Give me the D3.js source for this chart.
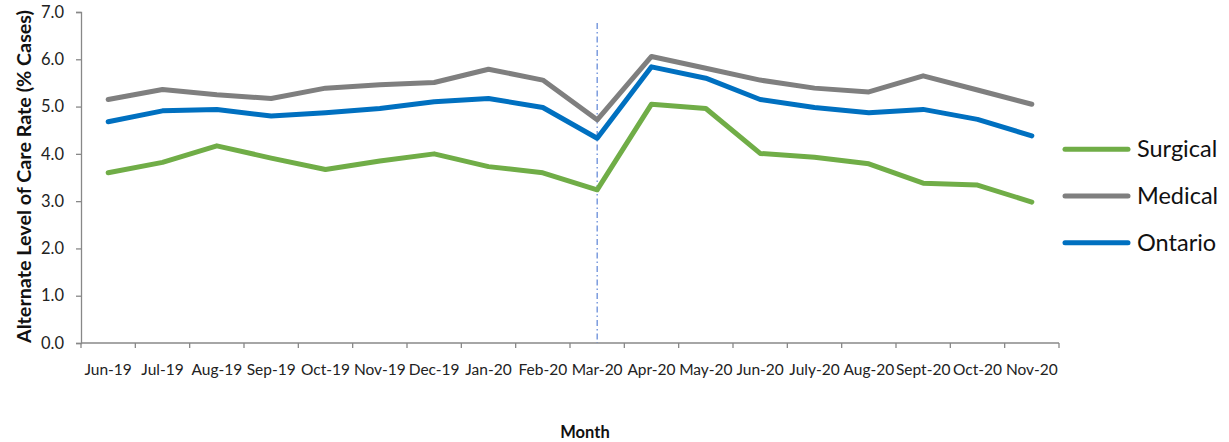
<!DOCTYPE html>
<html><head><meta charset="utf-8">
<script src="https://cdn.jsdelivr.net/npm/d3@7"></script>
<style>body{margin:0;background:#fff;}svg{display:block;font-family:Lato,"Open Sans",sans-serif;}</style>
</head><body><svg id="c" width="1229" height="442"></svg>
<script>
const months = ["Jun-19","Jul-19","Aug-19","Sep-19","Oct-19","Nov-19","Dec-19","Jan-20","Feb-20","Mar-20","Apr-20","May-20","Jun-20","July-20","Aug-20","Sept-20","Oct-20","Nov-20"];
const surgical = [3.60,3.82,4.17,3.91,3.67,3.85,4.00,3.73,3.60,3.24,5.05,4.96,4.01,3.93,3.79,3.38,3.34,2.98];
const medical  = [5.15,5.36,5.25,5.17,5.39,5.46,5.51,5.79,5.56,4.72,6.06,5.81,5.56,5.39,5.31,5.65,5.35,5.05];
const ontario  = [4.68,4.91,4.94,4.80,4.87,4.96,5.10,5.17,4.98,4.33,5.84,5.60,5.15,4.98,4.87,4.94,4.73,4.38];
const yTicks = [0,1,2,3,4,5,6,7];
const seriesNames = ["Surgical","Medical","Ontario"];
const seriesColors = ["#70AD47","#7F7F7F","#0070C0"];
const markerMonth = "Mar-20";

const svg = d3.select("#c");
const x = d3.scaleBand().domain(months).range([81,1059]);
const y = d3.scaleLinear().domain([0,7]).range([343,12]);

// y axis
const ya = svg.append("g").attr("transform","translate(81,0)")
  .call(d3.axisLeft(y).tickValues(yTicks).tickFormat(d3.format(".1f")).tickSizeOuter(0).tickSize(5));
ya.select(".domain").attr("stroke","#888").attr("stroke-width",1.3);
ya.selectAll(".tick line").attr("stroke","#888").attr("stroke-width",1.3);
ya.selectAll(".tick text").attr("font-size",16.5).attr("fill","#222").attr("x",-17).attr("font-family","Lato,'Open Sans',sans-serif");

// x axis with ticks at band boundaries
const xa = svg.append("g").attr("transform","translate(0,343)");
xa.append("line").attr("x1",81).attr("x2",1059).attr("stroke","#888").attr("stroke-width",1.3);
const bounds = months.map(m=>x(m)).concat([x(months[months.length-1])+x.bandwidth()]);
xa.selectAll(".bt").data(bounds).join("line").attr("x1",d=>d).attr("x2",d=>d).attr("y1",0).attr("y2",5)
  .attr("stroke","#888").attr("stroke-width",1.3);
xa.selectAll(".lbl").data(months).join("text")
  .attr("x",d=>x(d)+x.bandwidth()/2).attr("y",32).attr("text-anchor","middle")
  .attr("font-size",15.5).attr("fill","#222").text(d=>d);

// vertical marker
const mx = x(markerMonth)+x.bandwidth()/2;
svg.append("line").attr("x1",mx).attr("x2",mx).attr("y1",23).attr("y2",343)
  .attr("stroke","#5B83D6").attr("stroke-width",1.2).attr("stroke-dasharray","6,3,1.5,3");

// lines
const line = d3.line().x((d,i)=>x(months[i])+x.bandwidth()/2).y(d=>y(d));
[surgical,medical,ontario].forEach((s,i)=>{
  svg.append("path").datum(s).attr("d",line).attr("fill","none")
    .attr("stroke",seriesColors[i]).attr("stroke-width",5).attr("stroke-linejoin","round").attr("stroke-linecap","round");
});

// legend
seriesNames.forEach((n,i)=>{
  const ly = 149.3 + i*46.7;
  svg.append("line").attr("x1",1065).attr("x2",1128).attr("y1",ly).attr("y2",ly)
    .attr("stroke",seriesColors[i]).attr("stroke-width",5).attr("stroke-linecap","round");
  svg.append("text").attr("x",1137).attr("y",ly+8).attr("font-size",23.5).attr("fill","#111").text(n);
});

// axis titles
svg.append("text").attr("transform","translate(31,176.5) rotate(-90)").attr("text-anchor","middle")
  .attr("font-size",18).attr("font-weight","bold").attr("fill","#111")
  .attr("textLength",333).attr("lengthAdjust","spacingAndGlyphs").text("Alternate Level of Care Rate (% Cases)");
svg.append("text").attr("x",585).attr("y",438).attr("text-anchor","middle")
  .attr("font-size",16.5).attr("font-weight","bold").attr("fill","#111").text("Month");
</script></body></html>
